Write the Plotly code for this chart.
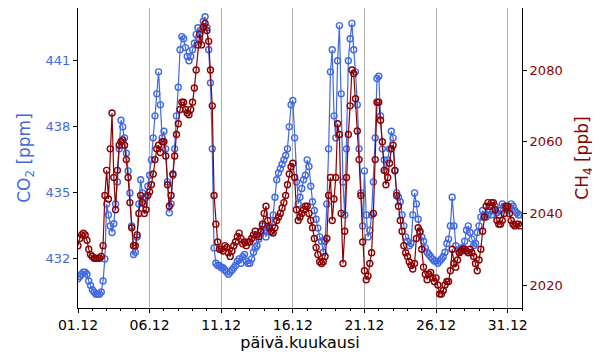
import pandas as pd
import plotly.graph_objects as go

# 3-hourly values, December (8 values per day)
co2_ppm = [
    431.1, 431.2, 431.3, 431.4, 431.4, 431.3, 431.0, 430.8,
    430.6, 430.5, 430.4, 430.4, 430.4, 430.5, 431.0, 432.0,
    434.5, 434.0, 433.5, 433.2, 433.6, 434.5, 435.5, 437.0,
    438.3, 438.0, 437.5, 436.8, 436.0, 435.0, 433.5, 432.2,
    432.3, 433.0, 434.5, 435.6, 435.0, 434.5, 434.8, 435.3,
    435.8, 436.5, 437.5, 438.5, 439.5, 440.5, 439.0, 437.5,
    437.8, 437.0, 435.5, 434.1, 434.5, 435.8, 437.0, 438.5,
    439.8, 441.5, 442.1, 442.0, 441.6, 441.2, 441.0, 441.2,
    441.5, 441.8, 442.2, 442.5, 442.0, 442.4, 442.8, 443.0,
    442.5, 441.5, 440.0, 437.0, 432.5, 431.8, 431.7, 431.7,
    431.6, 431.6, 431.5, 431.4, 431.3, 431.4, 431.5, 431.6,
    431.7, 431.9, 432.0, 431.8, 432.1, 432.2, 431.9, 431.8,
    431.8, 432.0, 432.3, 432.5, 432.6, 432.9, 433.2, 433.5,
    433.3, 433.0, 433.4, 433.5, 433.2, 434.0, 434.8, 435.6,
    435.9, 436.1, 436.3, 436.5, 436.7, 437.0, 438.0, 439.0,
    439.2, 437.5, 435.5, 434.5, 434.8, 435.2, 435.6, 435.8,
    436.5, 436.2, 435.3, 434.6, 434.2, 433.8, 433.4, 433.0,
    432.8, 432.3, 432.8, 434.5, 437.0, 440.5, 441.5, 438.5,
    437.5, 441.0, 442.6, 439.5, 435.5, 434.0, 437.0, 441.0,
    442.0, 442.7, 441.5, 440.5, 439.0, 437.0, 435.0, 433.5,
    436.0, 434.0, 433.0, 433.3, 434.0, 435.5, 437.5, 440.2,
    440.3, 438.5, 437.0, 436.5, 436.0, 436.5, 437.0, 437.8,
    437.5, 436.0, 435.0, 434.8, 434.6, 434.0, 433.5, 433.0,
    432.8, 432.6, 432.7, 434.0, 435.0, 434.5, 433.8, 433.2,
    433.0, 432.8, 432.5, 432.3, 432.2, 432.1, 432.0, 431.9,
    431.9, 431.8, 431.9, 432.0, 432.1, 432.3, 432.7, 432.9,
    433.5, 434.8, 433.5, 432.6, 432.4, 432.3, 432.5, 432.5,
    432.8, 433.3, 433.5, 433.2, 432.9, 432.6, 432.7, 433.2,
    433.5, 433.9, 434.2, 434.0, 433.9, 434.0, 434.2, 434.0,
    434.2, 434.4, 434.1, 434.0, 434.2, 434.5, 434.4, 434.3,
    434.2, 434.3, 434.5, 434.4, 434.2, 434.1, 434.0, 434.0,
]

ch4_ppb = [
    2031, 2033, 2034, 2034.5, 2034, 2032.5, 2030, 2028.5,
    2028, 2027.5, 2027.5, 2027.5, 2027.5, 2028, 2031, 2045,
    2052, 2044, 2058, 2068, 2050, 2041, 2052, 2059,
    2060, 2060.5, 2059, 2055, 2050, 2043, 2036, 2031,
    2031, 2034, 2040, 2045, 2043, 2040, 2041, 2045,
    2046, 2048, 2051, 2055, 2058, 2059, 2057, 2060,
    2060, 2056, 2048, 2042, 2045, 2051, 2056, 2062,
    2065, 2069, 2071, 2071, 2069, 2068, 2067.5, 2069,
    2071, 2075, 2080, 2087, 2090, 2087, 2092, 2093,
    2091, 2088, 2080, 2070, 2045, 2037, 2032, 2030,
    2030, 2029.5, 2031, 2030.5, 2029, 2028, 2029.5, 2031,
    2032, 2033.5, 2034.5, 2033, 2031.5, 2032, 2031, 2032,
    2032, 2033, 2034, 2035, 2034, 2033.5, 2035, 2037,
    2040, 2042, 2038, 2036, 2035, 2034.5, 2036, 2038,
    2039, 2040, 2041.5, 2043, 2045, 2048, 2051, 2053,
    2054, 2050, 2041, 2038, 2039, 2040, 2041, 2042,
    2042, 2040, 2038, 2036, 2033, 2030.5, 2028.5, 2026.5,
    2026, 2026.5, 2028, 2033, 2045, 2050, 2038, 2044,
    2050, 2065, 2062, 2040, 2026, 2035, 2050, 2062,
    2070, 2080, 2079, 2072, 2063, 2055, 2045, 2032,
    2024, 2021.5, 2022.5, 2026, 2029, 2040, 2055, 2071,
    2071, 2066, 2060, 2052, 2048, 2050, 2054, 2058,
    2059, 2052, 2045, 2042, 2038, 2035, 2031, 2029,
    2028, 2026.5, 2025.5, 2024.5, 2026, 2033, 2036, 2035,
    2030, 2025, 2023, 2021.5, 2023, 2023.5, 2022, 2021,
    2022, 2020, 2017.5, 2017.5, 2018.5, 2020, 2021, 2021,
    2024, 2030, 2026, 2025, 2027, 2029, 2029.5, 2030,
    2030, 2029.5, 2029, 2030, 2029, 2028, 2026, 2024,
    2027, 2030, 2035, 2039, 2042, 2043, 2042, 2043,
    2043, 2041, 2038, 2037, 2037, 2038, 2040, 2042,
    2042, 2040, 2038, 2037, 2036.5, 2037, 2037, 2036.5,
]

times = pd.date_range("2022-12-01 00:00", periods=len(co2_ppm), freq="3h")

BLUE = "#4169E1"
RED = "#8B0000"
FONT = "DejaVu Sans"

fig = go.Figure()
fig.add_trace(go.Scatter(
    x=times, y=co2_ppm, mode="lines+markers", name="CO2",
    line=dict(color=BLUE, width=1.2),
    marker=dict(symbol="circle-open", size=6, color=BLUE, line=dict(width=1.4)),
    yaxis="y",
))
fig.add_trace(go.Scatter(
    x=times, y=ch4_ppb, mode="lines+markers", name="CH4",
    line=dict(color=RED, width=1.2),
    marker=dict(symbol="circle-open", size=6, color=RED, line=dict(width=1.4)),
    yaxis="y2",
))

fig.update_layout(
    width=592, height=352,
    margin=dict(l=70, r=78, t=0, b=52, autoexpand=False),
    plot_bgcolor="white", paper_bgcolor="white",
    showlegend=False,
    font=dict(family=FONT, size=13, color="black"),
    xaxis=dict(
        type="date", automargin=False,
        range=["2022-12-01 00:00", "2023-01-01 00:00"],
        tick0="2022-12-01", dtick=5 * 86400000,
        tickformat="%d.%m",
        showgrid=True, gridcolor="#b0b0b0", gridwidth=1,
        showline=True, linecolor="black", linewidth=1, mirror=True,
        ticks="outside", ticklen=4, tickcolor="black",
        minor=dict(dtick=86400000, ticks="outside", ticklen=2, tickcolor="black", showgrid=False),
        tickfont=dict(size=14, color="black"),
        title=dict(text="päivä.kuukausi", font=dict(size=16, color="black"), standoff=4),
        zeroline=False,
    ),
    yaxis=dict(
        range=[429.77, 443.4], automargin=False,
        tickvals=[432, 435, 438, 441],
        showgrid=False, zeroline=False,
        showline=True, linecolor="black", linewidth=1,
        ticks="outside", ticklen=4, tickcolor="black",
        tickfont=dict(size=13, color=BLUE),
        title=dict(text="CO<sub>2</sub> [ppm]", font=dict(size=17, color=BLUE), standoff=10),
    ),
    yaxis2=dict(
        range=[2013.6, 2097.3], automargin=False,
        tickvals=[2020, 2040, 2060, 2080],
        overlaying="y", side="right",
        showgrid=False, zeroline=False,
        showline=True, linecolor="black", linewidth=1,
        ticks="outside", ticklen=4, tickcolor="black",
        tickfont=dict(size=13, color=RED),
        title=dict(text="CH<sub>4</sub> [ppb]", font=dict(size=17, color=RED), standoff=14),
    ),
)

fig.write_html("out.html")
